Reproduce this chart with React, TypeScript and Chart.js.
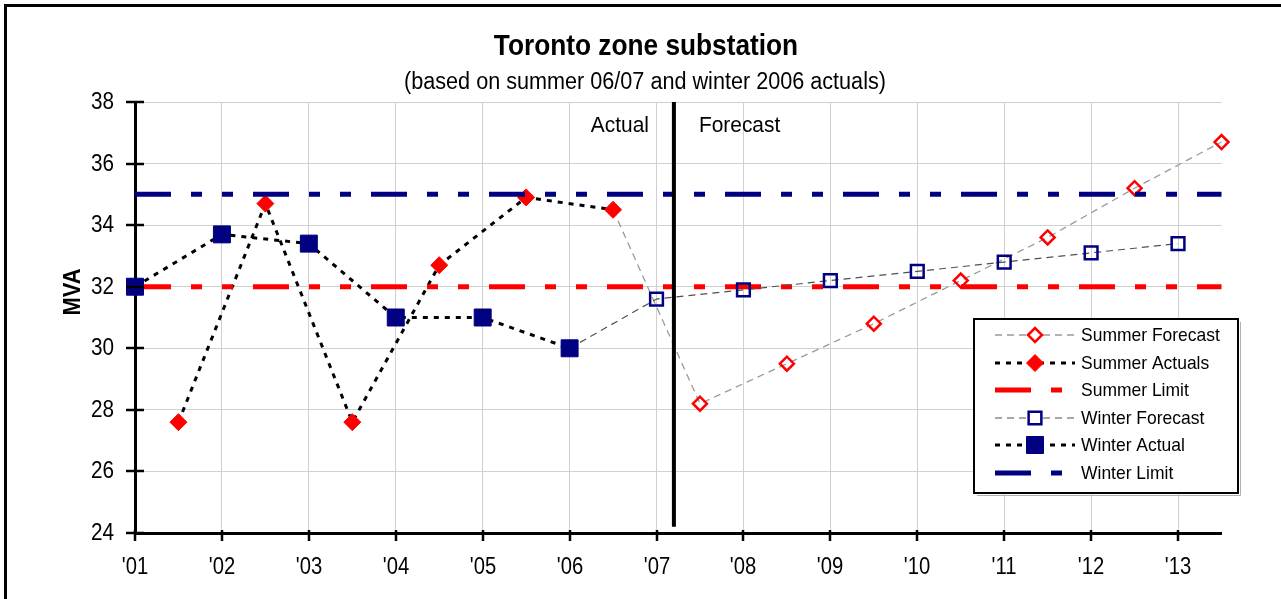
import React, { useEffect, useRef } from "react";
import { Chart, registerables } from "chart.js";

Chart.register(...registerables);

// ---------- data ----------
const titleText = "Toronto zone substation";
const subtitleText = "(based on summer 06/07 and winter 2006 actuals)";
const yAxisTitle = "MVA";

const yearPositions = [1, 2, 3, 4, 5, 6, 7, 8, 9, 10, 11, 12, 13];
const yearLabels = ["'01", "'02", "'03", "'04", "'05", "'06", "'07", "'08", "'09", "'10", "'11", "'12", "'13"];
const yTickValues = [24, 26, 28, 30, 32, 34, 36, 38];

const summerForecastYears = [6.5, 7.5, 8.5, 9.5, 10.5, 11.5, 12.5, 13.5];
const summerForecastValues = [34.5, 28.2, 29.5, 30.8, 32.2, 33.6, 35.2, 36.7];

const summerActualYears = [1.5, 2.5, 3.5, 4.5, 5.5, 6.5];
const summerActualValues = [27.6, 34.7, 27.6, 32.7, 34.9, 34.5];

const winterForecastYears = [6, 7, 8, 9, 10, 11, 12, 13];
const winterForecastValues = [30.0, 31.6, 31.9, 32.2, 32.5, 32.8, 33.1, 33.4];

const winterActualYears = [1, 2, 3, 4, 5, 6];
const winterActualValues = [32.0, 33.7, 33.4, 31.0, 31.0, 30.0];

const summerLimitValue = 32;
const winterLimitValue = 35;
const limitSpan = [1, 13.5];

const dividerYear = 7.2;
const dividerSpan = [24.2, 38];

const actualText = "Actual";
const forecastText = "Forecast";

// ---------- styles ----------
const RED = "#ff0000";
const NAVY = "#000080";
const FONT = '"Liberation Sans", Arial, Helvetica, sans-serif';
const limitDash = [36, 20, 11, 20, 11, 20];
const dotDash = [5, 6];

const pts = (xs: number[], ys: number[]) => xs.map((x, i) => ({ x, y: ys[i] }));

type LegendEntry = {
  label: string;
  color: string;
  width: number;
  dash: number[];
  marker: "diamond" | "square" | null;
  mFill: string;
  mStroke: string;
  mSize: number;
  mLine: number;
};

const SF_R = 7, SA_R = 8.5, WF_R = 9, WA_R = 12;

const legendEntries: LegendEntry[] = [
  { label: "Summer Forecast", color: "#9a9a9a", width: 1.3, dash: [7, 5], marker: "diamond", mFill: "#fff", mStroke: RED, mSize: SF_R, mLine: 2.5 },
  { label: "Summer Actuals", color: "#000", width: 3, dash: dotDash, marker: "diamond", mFill: RED, mStroke: RED, mSize: SA_R, mLine: 1 },
  { label: "Summer Limit", color: RED, width: 5, dash: limitDash, marker: null, mFill: "", mStroke: "", mSize: 0, mLine: 0 },
  { label: "Winter Forecast", color: "#505050", width: 1.2, dash: [7, 5], marker: "square", mFill: "#fff", mStroke: NAVY, mSize: WF_R, mLine: 2.5 },
  { label: "Winter Actual", color: "#000", width: 3, dash: dotDash, marker: "square", mFill: NAVY, mStroke: NAVY, mSize: WA_R, mLine: 1 },
  { label: "Winter Limit", color: NAVY, width: 5, dash: limitDash, marker: null, mFill: "", mStroke: "", mSize: 0, mLine: 0 },
];

function drawMarker(ctx: CanvasRenderingContext2D, kind: string, x: number, y: number, r: number, fill: string, stroke: string, lw: number) {
  ctx.save();
  ctx.setLineDash([]);
  ctx.beginPath();
  if (kind === "diamond") {
    ctx.moveTo(x - r, y);
    ctx.lineTo(x, y - r);
    ctx.lineTo(x + r, y);
    ctx.lineTo(x, y + r);
    ctx.closePath();
  } else {
    const h = r * Math.SQRT1_2;
    ctx.rect(x - h, y - h, 2 * h, 2 * h);
  }
  ctx.fillStyle = fill;
  ctx.fill();
  ctx.lineWidth = lw;
  ctx.strokeStyle = stroke;
  ctx.stroke();
  ctx.restore();
}

function squeezedText(ctx: CanvasRenderingContext2D, text: string, x: number, y: number, sx: number) {
  ctx.save();
  ctx.translate(x, y);
  ctx.scale(sx, 1);
  ctx.fillText(text, 0, 0);
  ctx.restore();
}

const overlayPlugin = {
  id: "overlay",
  beforeDraw(chart: any) {
    const ctx = chart.ctx as CanvasRenderingContext2D;
    ctx.save();
    ctx.fillStyle = "#fff";
    ctx.fillRect(0, 0, chart.width, chart.height);
    ctx.restore();
  },
  afterDraw(chart: any) {
    const ctx = chart.ctx as CanvasRenderingContext2D;
    const xs = chart.scales.x;
    const ys = chart.scales.y;
    const area = chart.chartArea;
    ctx.save();

    // outer frame
    ctx.strokeStyle = "#000";
    ctx.lineWidth = 3;
    ctx.strokeRect(5.5, 5.5, chart.width + 40, chart.height + 40);

    // titles
    ctx.fillStyle = "#000";
    ctx.textAlign = "center";
    ctx.textBaseline = "alphabetic";
    ctx.font = `bold 30px ${FONT}`;
    squeezedText(ctx, titleText, 646, 55, 0.875);
    ctx.font = `23px ${FONT}`;
    squeezedText(ctx, subtitleText, 645, 89, 0.94);

    // y ticks + labels
    ctx.strokeStyle = "#000";
    ctx.lineWidth = 2.5;
    ctx.font = `23px ${FONT}`;
    ctx.textAlign = "right";
    ctx.textBaseline = "middle";
    yTickValues.forEach((v) => {
      const py = Math.round(ys.getPixelForValue(v));
      ctx.beginPath();
      ctx.moveTo(area.left - 9, py);
      ctx.lineTo(area.left + 9, py);
      ctx.stroke();
      squeezedText(ctx, String(v), area.left - 21, py + 1, 0.9);
    });

    // x ticks + labels
    ctx.textAlign = "center";
    yearPositions.forEach((v, i) => {
      const px = Math.round(xs.getPixelForValue(v));
      ctx.beginPath();
      ctx.moveTo(px, area.bottom - 3);
      ctx.lineTo(px, area.bottom + 8);
      ctx.stroke();
      squeezedText(ctx, yearLabels[i], px, area.bottom + 35, 0.88);
    });

    // y axis title
    ctx.save();
    ctx.translate(74, 292);
    ctx.rotate(-Math.PI / 2);
    ctx.font = `bold 23px ${FONT}`;
    ctx.textAlign = "center";
    ctx.textBaseline = "middle";
    ctx.scale(0.95, 1);
    ctx.fillText(yAxisTitle, 0, 0);
    ctx.restore();

    // Actual / Forecast labels
    const dx = xs.getPixelForValue(dividerYear);
    ctx.font = `22px ${FONT}`;
    ctx.textBaseline = "alphabetic";
    ctx.textAlign = "right";
    squeezedText(ctx, actualText, dx - 25, area.top + 30, 0.95);
    ctx.textAlign = "left";
    squeezedText(ctx, forecastText, dx + 25, area.top + 30, 0.95);

    // legend
    const lx = 974, ly = 319, lw = 264, lh = 174;
    ctx.fillStyle = "#fff";
    ctx.fillRect(lx, ly, lw, lh);
    ctx.strokeStyle = "#b0b0b0";
    ctx.lineWidth = 1;
    ctx.beginPath();
    ctx.moveTo(lx + lw + 2.5, ly + 3);
    ctx.lineTo(lx + lw + 2.5, ly + lh + 2.5);
    ctx.lineTo(lx + 3, ly + lh + 2.5);
    ctx.stroke();
    ctx.strokeStyle = "#000";
    ctx.lineWidth = 2;
    ctx.strokeRect(lx, ly, lw, lh);

    ctx.font = `19px ${FONT}`;
    ctx.textAlign = "left";
    ctx.textBaseline = "middle";
    legendEntries.forEach((e, i) => {
      const cy = Math.round(335 + i * 27.6);
      ctx.save();
      ctx.beginPath();
      ctx.rect(995, cy - 10, 80, 20);
      ctx.clip();
      ctx.strokeStyle = e.color;
      ctx.lineWidth = e.width;
      ctx.setLineDash(e.dash);
      ctx.beginPath();
      ctx.moveTo(995, cy);
      ctx.lineTo(1075, cy);
      ctx.stroke();
      ctx.restore();
      if (e.marker) drawMarker(ctx, e.marker, 1035, cy, e.mSize, e.mFill, e.mStroke, e.mLine);
      ctx.fillStyle = "#000";
      squeezedText(ctx, e.label, 1081, cy + 1, 0.92);
    });

    ctx.restore();
  },
};

export default function App() {
  const canvasRef = useRef<HTMLCanvasElement | null>(null);

  useEffect(() => {
    const canvas = canvasRef.current;
    if (!canvas) return;
    document.body.style.margin = "0";

    const forecastRadius = (n: number, r: number) => Array.from({ length: n }, (_, i) => (i === 0 ? 0 : r));

    const chart = new Chart(canvas, {
      type: "line",
      data: {
        datasets: [
          {
            label: "divider",
            data: [{ x: dividerYear, y: dividerSpan[0] }, { x: dividerYear, y: dividerSpan[1] }],
            borderColor: "#000",
            borderWidth: 4,
            pointRadius: 0,
            order: 0,
          },
          {
            label: "Winter Limit",
            data: [{ x: limitSpan[0], y: winterLimitValue }, { x: limitSpan[1], y: winterLimitValue }],
            borderColor: NAVY,
            borderWidth: 5,
            borderDash: limitDash,
            pointRadius: 0,
            order: 1,
          },
          {
            label: "Winter Actual",
            data: pts(winterActualYears, winterActualValues),
            borderColor: "#000",
            borderWidth: 3,
            borderDash: dotDash,
            pointStyle: "rect",
            pointRadius: WA_R,
            pointBackgroundColor: NAVY,
            pointBorderColor: NAVY,
            pointBorderWidth: 1,
            order: 2,
          },
          {
            label: "Winter Forecast",
            data: pts(winterForecastYears, winterForecastValues),
            borderColor: "#505050",
            borderWidth: 1.2,
            borderDash: [7, 5],
            pointStyle: "rect",
            pointRadius: forecastRadius(winterForecastYears.length, WF_R),
            pointBackgroundColor: "rgba(0,0,0,0)",
            pointBorderColor: NAVY,
            pointBorderWidth: 2.5,
            order: 3,
          },
          {
            label: "Summer Limit",
            data: [{ x: limitSpan[0], y: summerLimitValue }, { x: limitSpan[1], y: summerLimitValue }],
            borderColor: RED,
            borderWidth: 5,
            borderDash: limitDash,
            pointRadius: 0,
            order: 4,
          },
          {
            label: "Summer Actuals",
            data: pts(summerActualYears, summerActualValues),
            borderColor: "#000",
            borderWidth: 3,
            borderDash: dotDash,
            pointStyle: "rectRot",
            pointRadius: SA_R,
            pointBackgroundColor: RED,
            pointBorderColor: RED,
            pointBorderWidth: 1,
            order: 5,
          },
          {
            label: "Summer Forecast",
            data: pts(summerForecastYears, summerForecastValues),
            borderColor: "#9a9a9a",
            borderWidth: 1.3,
            borderDash: [7, 5],
            pointStyle: "rectRot",
            pointRadius: forecastRadius(summerForecastYears.length, SF_R),
            pointBackgroundColor: "rgba(0,0,0,0)",
            pointBorderColor: RED,
            pointBorderWidth: 2.5,
            order: 6,
          },
        ].map((d) => ({ ...d, clip: false as any, fill: false, tension: 0, pointHoverRadius: 0 })),
      },
      options: {
        responsive: false,
        animation: false,
        devicePixelRatio: 1,
        events: [],
        layout: { padding: { left: 135, top: 102, right: 59.5, bottom: 66 } },
        plugins: {
          legend: { display: false },
          tooltip: { enabled: false },
          title: { display: false },
        },
        scales: {
          x: {
            type: "linear",
            min: 1,
            max: 13.5,
            afterBuildTicks: (scale: any) => {
              scale.ticks = yearPositions.map((v) => ({ value: v }));
            },
            ticks: { display: false },
            grid: { color: "#d0d0d0", lineWidth: 1, drawTicks: false },
            border: { display: true, color: "#000", width: 3 },
          },
          y: {
            type: "linear",
            min: 24,
            max: 38,
            afterBuildTicks: (scale: any) => {
              scale.ticks = yTickValues.map((v) => ({ value: v }));
            },
            ticks: { display: false },
            grid: { color: "#d0d0d0", lineWidth: 1, drawTicks: false },
            border: { display: true, color: "#000", width: 3 },
          },
        },
      },
      plugins: [overlayPlugin],
    } as any);

    return () => chart.destroy();
  }, []);

  return (
    <div style={{ position: "absolute", left: 0, top: 0, width: 1281, height: 599, background: "#fff" }}>
      <canvas ref={canvasRef} width={1281} height={599} style={{ display: "block" }} />
    </div>
  );
}
